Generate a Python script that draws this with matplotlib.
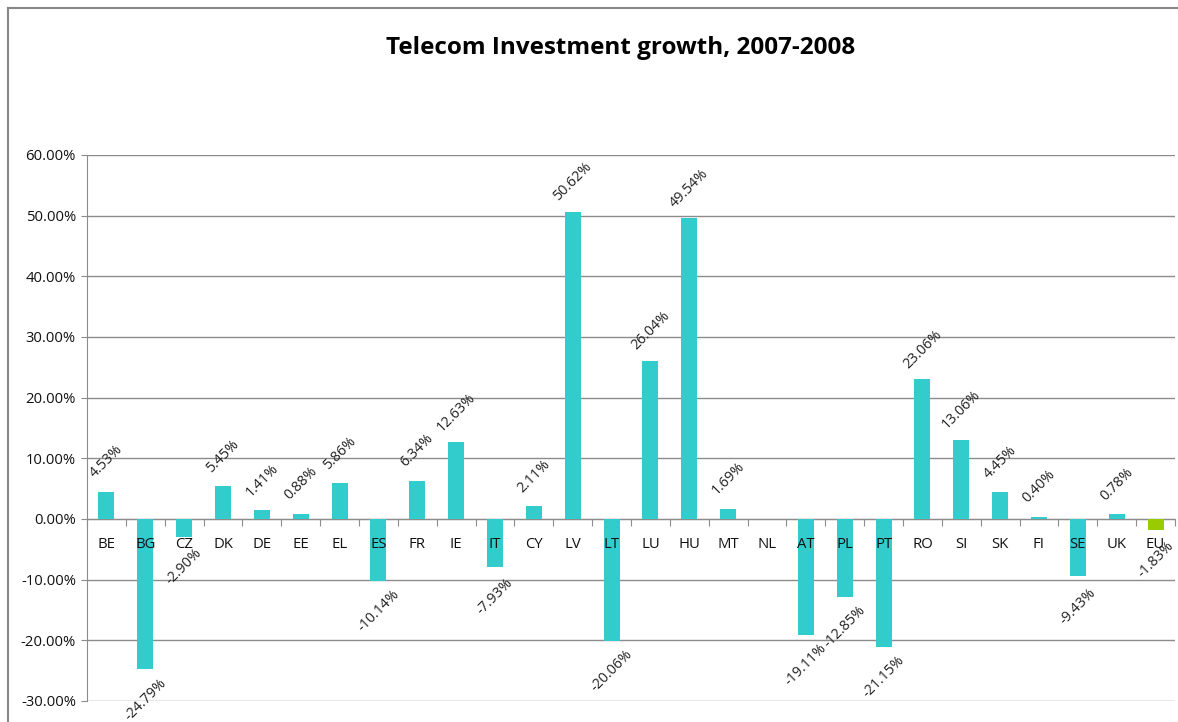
import numpy as np
import matplotlib
matplotlib.use("Agg")
import matplotlib.pyplot as plt
from matplotlib.lines import Line2D
from matplotlib.ticker import FuncFormatter

plt.rcParams['font.family'] = ['Open Sans', 'DejaVu Sans']

# data
countries = ["BE", "BG", "CZ", "DK", "DE", "EE", "EL", "ES", "FR", "IE",
             "IT", "CY", "LV", "LT", "LU", "HU", "MT", "NL", "AT", "PL",
             "PT", "RO", "SI", "SK", "FI", "SE", "UK", "EU"]
growth = [4.53, -24.79, -2.90, 5.45, 1.41, 0.88, 5.86, -10.14, 6.34, 12.63,
          -7.93, 2.11, 50.62, -20.06, 26.04, 49.54, 1.69, np.nan, -19.11, -12.85,
          -21.15, 23.06, 13.06, 4.45, 0.40, -9.43, 0.78, -1.83]

TEAL = "#33CCCC"
GREEN = "#99CC00"
GRID = "#8c8c8c"
TXT = "#111111"

fig = plt.figure(figsize=(11.78, 7.22), dpi=100)
ax = fig.add_axes([87 / 1178, 1 - 701 / 722, (1175 - 87) / 1178, (701 - 155) / 722])

x = np.arange(len(countries))
colors = [GREEN if c == "EU" else TEAL for c in countries]
vals = np.nan_to_num(np.array(growth, dtype=float))
ax.bar(x, vals, width=0.41, color=colors, zorder=3)

# rotated data labels
for xi, v in zip(x, growth):
    if np.isnan(v):
        continue
    off = 30 if v >= 0 else -30
    ax.annotate(f"{v:.2f}%", (xi, v), xytext=(0, off), textcoords="offset pixels",
                ha="center", va="center", rotation=45, fontsize=10.3, color="#222222",
                zorder=4)

# category labels drawn on top of the bars
for xi, c in zip(x, countries):
    ax.annotate(c, (xi, 0), xytext=(0, -26), textcoords="offset pixels",
                ha="center", va="center", fontsize=10.7, color=TXT, zorder=5)

ax.set_xlim(-0.5, len(countries) - 0.5)
ax.set_ylim(-30, 60)
ax.set_yticks(np.arange(-30, 61, 10))
ax.yaxis.set_major_formatter(FuncFormatter(lambda v, p: f"{v:.2f}%"))
ax.grid(axis="y", color=GRID, linewidth=1, zorder=0)
ax.set_axisbelow(True)

# x axis through zero, ticks at category boundaries
ax.spines["bottom"].set_position(("data", 0))
ax.spines["bottom"].set_color(GRID)
ax.spines["left"].set_color(GRID)
ax.spines["top"].set_visible(False)
ax.spines["right"].set_visible(False)
ax.set_xticks(np.arange(-0.5, len(countries), 1))
ax.set_xticklabels([])
ax.tick_params(axis="x", length=5, color=GRID, direction="out")
ax.tick_params(axis="y", length=4, color=GRID, labelsize=10.7, labelcolor=TXT, pad=4)

fig.suptitle("Telecom Investment growth, 2007-2008", x=0.527, y=1 - 48 / 722,
             va="center", fontsize=17.5, fontweight="bold")

# outer chart frame (only left and top visible)
fig.add_artist(Line2D([8 / 1178, 8 / 1178], [-0.01, 1 - 8 / 722], color="#888888", lw=1.5))
fig.add_artist(Line2D([8 / 1178, 1.01], [1 - 8 / 722, 1 - 8 / 722], color="#888888", lw=1.5))

fig.savefig("out.png", dpi=100)
